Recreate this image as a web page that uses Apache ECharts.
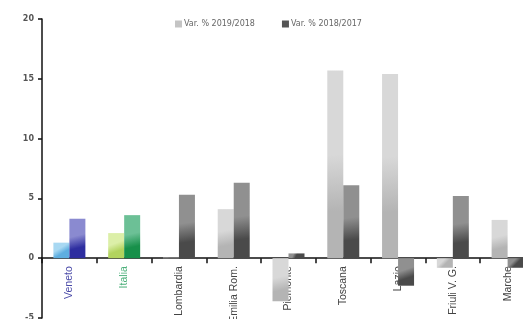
<!DOCTYPE html>
<html style="height:100%">
<head>
<meta charset="utf-8">
<script src="https://cdn.jsdelivr.net/npm/echarts@6/dist/echarts.min.js"></script>
</head>
<body style="height:100%; margin:0; background:#fff">
<div id="container" style="width:523px; height:319px"></div>
<script type="text/javascript">
var categories = ['Veneto', 'Italia', 'Lombardia', 'Emilia Rom.', 'Piemonte', 'Toscana', 'Lazio', 'Friuli V. G.', 'Marche'];
var var2019 = [1.3, 2.1, 0.05, 4.1, -3.6, 15.7, 15.4, -0.8, 3.2];
var var2018 = [3.3, 3.6, 5.3, 6.3, 0.4, 6.1, -2.3, 5.2, -0.8];
var yTicks = [-5, 0, 5, 10, 15, 20];

function grad(top, bottom) {
    return new echarts.graphic.LinearGradient(0, 0, 0.6, 1, [
        {offset: 0, color: top},
        {offset: 0.45, color: top},
        {offset: 0.75, color: bottom},
        {offset: 1, color: bottom}
    ]);
}

var lightCols = [grad('#a8d8f2', '#5eaee0'), grad('#dcefa8', '#b2d35e')];
var darkCols = [grad('#8a8ad0', '#2e2ea0'), grad('#6cc096', '#17904a')];

var data2019 = var2019.map(function (v, i) {
    return {value: v, itemStyle: {color: i < 2 ? lightCols[i] : grad('#d8d8d8', '#b4b4b4')}};
});
var data2018 = var2018.map(function (v, i) {
    return {value: v, itemStyle: {color: i < 2 ? darkCols[i] : grad('#909090', '#4a4a4a')}};
});

var labelColors = ['#4a4aa8', '#4cb07a'];

var myChart = echarts.init(document.getElementById('container'));
myChart.setOption({
    animation: false,
    legend: {
        top: 15,
        left: 170,
        icon: 'rect',
        itemWidth: 7,
        itemHeight: 7,
        itemGap: 27,
        textStyle: {fontSize: 8, color: '#666', fontFamily: 'DejaVu Sans', padding: [0, 0, 0, -3]},
        data: [
            {name: 'Var. % 2019/2018', itemStyle: {color: '#c4c4c4'}},
            {name: 'Var. % 2018/2017', itemStyle: {color: '#555'}}
        ]
    },
    grid: {left: 42, right: -12, top: 19, bottom: 1, containLabel: false, outerBoundsMode: 'none'},
    xAxis: {
        type: 'category',
        data: categories,
        offset: -59.8,
        axisLine: {onZero: false, lineStyle: {color: '#111', width: 1.5}},
        axisTick: {show: true, length: 5, inside: false, lineStyle: {color: '#111', width: 1.5}},
        axisLabel: {
            rotate: 90,
            fontSize: 10.5,
            margin: 8,
            fontFamily: 'Liberation Sans',
            color: function (val, idx) { return idx < 2 ? labelColors[idx] : '#444'; }
        }
    },
    yAxis: {
        type: 'value',
        min: yTicks[0],
        max: yTicks[yTicks.length - 1],
        interval: 5,
        splitLine: {show: false},
        axisLine: {show: true, lineStyle: {color: '#111', width: 1.5}},
        axisTick: {show: true, length: 4, lineStyle: {color: '#111', width: 1.5}},
        axisLabel: {fontSize: 8, color: '#555', fontWeight: 'bold', fontFamily: 'DejaVu Sans', margin: 8}
    },
    series: [
        {name: 'Var. % 2019/2018', type: 'bar', barWidth: 16, barGap: '0%', data: data2019, itemStyle: {color: '#c4c4c4'}},
        {name: 'Var. % 2018/2017', type: 'bar', barWidth: 16, data: data2018, itemStyle: {color: '#555'}}
    ]
});
</script>
</body>
</html>
